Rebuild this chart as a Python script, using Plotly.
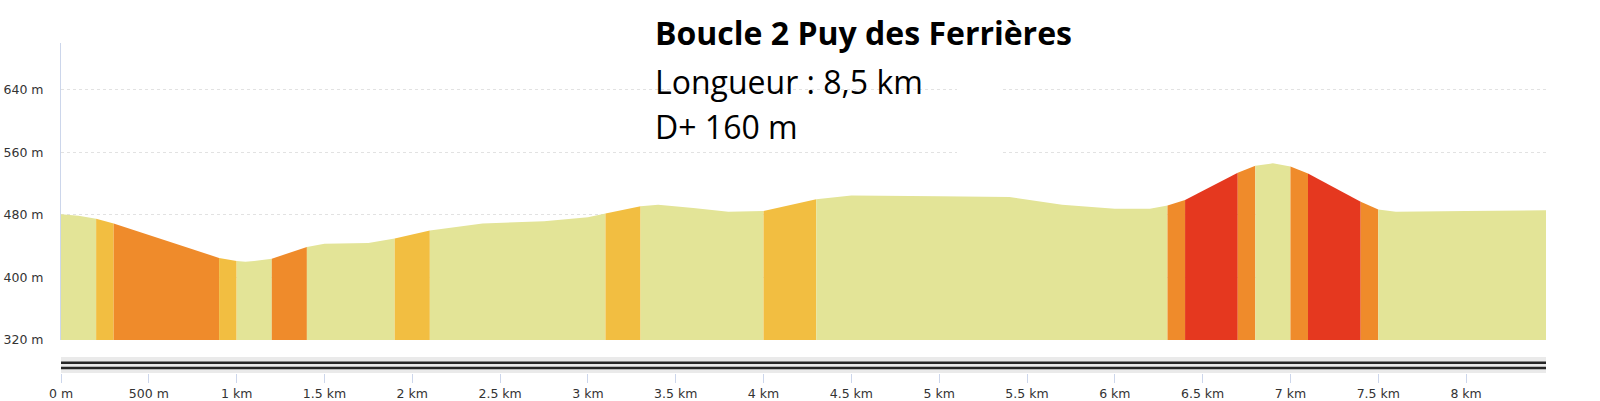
import plotly.graph_objects as go

# elevation profile (distance in m, altitude in m)
dist_m = [0, 100, 200, 300, 600, 900, 1000, 1050, 1100, 1200, 1400, 1500, 1750, 1900,
          2100, 2400, 2750, 3000, 3100, 3300, 3400, 3600, 3800, 4000, 4300, 4500, 5000,
          5400, 5700, 6000, 6200, 6300, 6400, 6550, 6700, 6800, 6900, 7000, 7100, 7250,
          7400, 7500, 7600, 8000, 8455]
elev_m = [481, 479, 475, 469, 447, 425, 421, 420, 421, 424, 439, 443, 444, 450,
          460, 469, 472, 477, 482, 491, 493, 489, 484, 485, 500, 505, 504,
          503, 493, 488, 488, 492, 499, 516, 534, 543, 546, 542, 533, 515,
          497, 487, 484, 485, 486]

# slope sections: start distance and slope class (0 <5%, 1 5-10%, 2 10-15%, 3 >15%)
section_start = [0, 200, 300, 900, 1000, 1200, 1400, 1900, 2100, 3100, 3300, 4000,
                 4300, 6300, 6400, 6700, 6800, 7000, 7100, 7400, 7500]
section_class = [0, 1, 2, 1, 0, 2, 0, 1, 0, 1, 0, 1, 0, 2, 3, 2, 0, 2, 3, 2, 0]
class_colors = ["#E3E497", "#F2BE41", "#EF8B2B", "#E5381F"]

y_ticks = [320, 400, 480, 560, 640]
y_labels = ["320 m", "400 m", "480 m", "560 m", "640 m"]
x_ticks = [0, 500, 1000, 1500, 2000, 2500, 3000, 3500, 4000, 4500, 5000, 5500, 6000,
           6500, 7000, 7500, 8000]
x_labels = ["0 m", "500 m", "1 km", "1.5 km", "2 km", "2.5 km", "3 km", "3.5 km", "4 km",
            "4.5 km", "5 km", "5.5 km", "6 km", "6.5 km", "7 km", "7.5 km", "8 km"]

W, H = 1600, 401
tick_font = dict(family="DejaVu Sans", size=12.5, color="#333333")

fig = go.Figure()

# one filled area per slope section
bounds = section_start + [dist_m[-1]]
for i, cls in enumerate(section_class):
    a, b = bounds[i], bounds[i + 1]
    xs = [d for d in dist_m if a <= d <= b]
    ys = [e for d, e in zip(dist_m, elev_m) if a <= d <= b]
    fig.add_trace(go.Scatter(
        x=xs, y=ys, mode="lines", line=dict(width=0, color=class_colors[cls]),
        fill="tozeroy", fillcolor=class_colors[cls],
        showlegend=False, hoverinfo="skip", xaxis="x", yaxis="y"
    ))

# road band under the profile
x0, x1 = dist_m[0], dist_m[-1]
fig.add_trace(go.Scatter(
    x=[x0, x1, x1, x0, x0], y=[0, 0, 1, 1, 0], mode="lines", line=dict(width=0),
    fill="toself", fillcolor="#EAEAEA", showlegend=False, hoverinfo="skip",
    xaxis="x2", yaxis="y2"
))
for yy in [0.31, 0.64]:
    fig.add_trace(go.Scatter(
        x=[x0, x1], y=[yy, yy], mode="lines", line=dict(width=2.5, color="#262626"),
        showlegend=False, hoverinfo="skip", xaxis="x2", yaxis="y2"
    ))

xdom = [61 / W, 1546 / W]
fig.update_layout(
    width=W, height=H,
    margin=dict(l=0, r=0, t=0, b=0, autoexpand=False),
    plot_bgcolor="white", paper_bgcolor="white",
    xaxis=dict(domain=xdom, range=[0, 8455], anchor="y", showgrid=False,
               showticklabels=False, zeroline=False, showline=False, automargin=False),
    yaxis=dict(domain=[1 - 340 / H, 1 - 43 / H], range=[320, 700], anchor="x",
               tickvals=y_ticks, ticktext=y_labels, tickfont=tick_font,
               showgrid=True, gridcolor="#E2E2E2", griddash="dot", gridwidth=1,
               zeroline=False, showline=True, linecolor="#CCD6EB", linewidth=1,
               ticks="", ticklabelstandoff=14, automargin=False),
    xaxis2=dict(domain=xdom, range=[0, 8455], anchor="y2", matches="x",
                tickvals=x_ticks, ticktext=x_labels, tickfont=tick_font,
                ticks="outside", ticklen=9, tickcolor="#CCD6EB", tickwidth=1,
                showgrid=False, zeroline=False, showline=False, automargin=False),
    yaxis2=dict(domain=[1 - 373 / H, 1 - 357 / H], range=[0, 1], anchor="x2",
                showgrid=False, showticklabels=False, zeroline=False, showline=False,
                automargin=False),
    shapes=[dict(type="rect", xref="paper", yref="paper",
                 x0=957 / W, x1=1003 / W, y0=1 - 158 / H, y1=1 - 82 / H,
                 fillcolor="white", line=dict(width=0), layer="above")],
    annotations=[
        dict(text="<b>Boucle 2 Puy des Ferrières</b>", xref="paper", yref="paper",
             x=653 / W, y=1 - 32 / H, xanchor="left", yanchor="middle", showarrow=False,
             font=dict(family="Open Sans", size=32, color="#000000")),
        dict(text="Longueur : 8,5 km", xref="paper", yref="paper",
             x=653 / W, y=1 - 81.5 / H, xanchor="left", yanchor="middle", showarrow=False,
             font=dict(family="Open Sans", size=32, color="#000000")),
        dict(text="D+ 160 m", xref="paper", yref="paper",
             x=653 / W, y=1 - 126.5 / H, xanchor="left", yanchor="middle", showarrow=False,
             font=dict(family="Open Sans", size=32, color="#000000")),
    ],
)

fig.write_html("out.html", config={"displayModeBar": False},
               post_script="document.body.style.margin='0';")
